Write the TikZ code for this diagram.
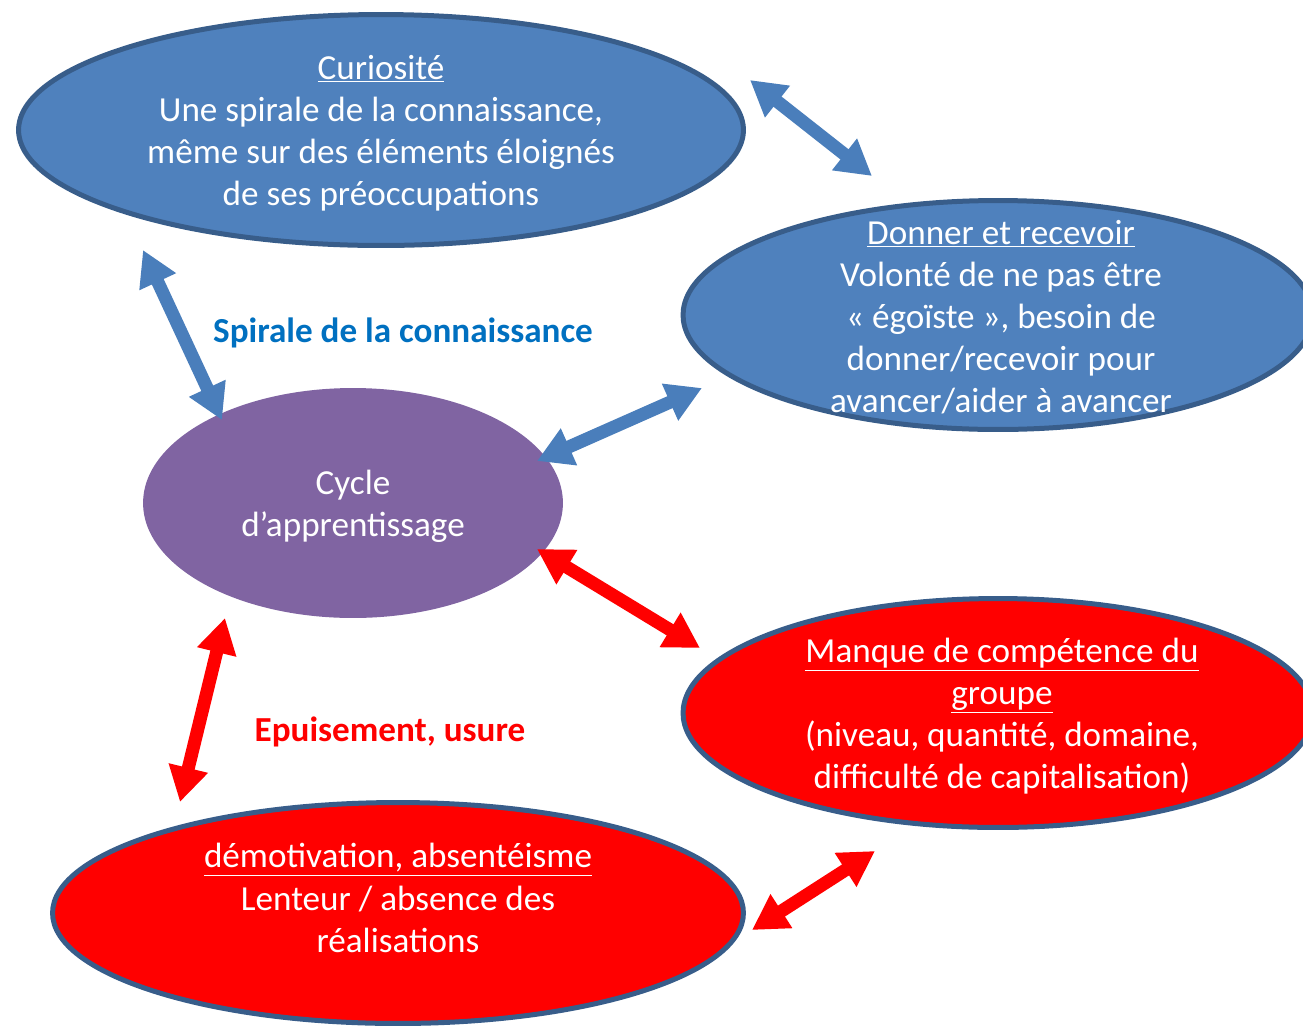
\documentclass[tikz,border=0pt]{standalone}
\usepackage{fontspec}
\setmainfont{Carlito}
\usetikzlibrary{shapes.geometric,arrows.meta,positioning}
\definecolor{bubbleblue}{HTML}{4F81BD}
\definecolor{bubbleborder}{HTML}{385D8A}
\definecolor{cyclepurple}{HTML}{8064A2}
\definecolor{labelblue}{HTML}{0070C0}
\definecolor{arrowblue}{HTML}{4A7EBB}

\begin{document}
\begin{tikzpicture}[
    x=0.02cm, y=-0.02cm,
    bubble/.style={ellipse, draw=bubbleborder, line width=0.1cm, inner sep=0pt},
    bluebubble/.style={bubble, fill=bubbleblue},
    redbubble/.style={bubble, fill=red},
    cyclebubble/.style={ellipse, fill=cyclepurple, inner sep=0pt, minimum width=8.4cm, minimum height=4.6cm},
    bubbletext/.style={text=white, align=center, font=\fontsize{20}{24}\selectfont},
    linktext/.style={font=\fontsize{20}{24}\selectfont\bfseries},
    link/.style={line width=0.26cm, {Triangle[length=0.7cm,width=0.76cm]}-{Triangle[length=0.7cm,width=0.76cm]}},
    bluearrow/.style={link, draw=arrowblue},
    redarrow/.style={link, draw=red}
]
\useasboundingbox (0,0) rectangle (1303,1029);

% Bubbles
\node[bluebubble, minimum width=14.5cm, minimum height=4.62cm] (curio) at (381,130) {};
\node[bluebubble, minimum width=12.6cm, minimum height=4.58cm] (donner) at (998,315) {};
\node[cyclebubble] (cycle) at (353,503) {};
\node[redbubble, minimum width=12.6cm, minimum height=4.58cm] (manque) at (998,713) {};
\node[redbubble, minimum width=13.82cm, minimum height=4.42cm] (demo) at (398,913) {};

% Texts
\node[bubbletext] (curiotxt) at ([yshift=-0.06cm]curio.center) {\underline{Curiosité}\\Une spirale de la connaissance,\\même sur des éléments éloignés\\de ses préoccupations};
\node[bubbletext] (donnertxt) at ([xshift=0.06cm,yshift=-0.04cm]donner.center) {\underline{Donner et recevoir}\\Volonté de ne pas être\\«~égoïste~», besoin de\\donner/recevoir pour\\avancer/aider à avancer};
\node[bubbletext] (cycletxt) at ([yshift=-0.07cm]cycle.center) {Cycle\\d’apprentissage};
\node[bubbletext] (manquetxt) at ([xshift=0.08cm,yshift=-0.06cm]manque.center) {\underline{Manque de compétence du}\\\underline{groupe}\\(niveau, quantité, domaine,\\difficulté de capitalisation)};
\node[bubbletext] (demotxt) at ([yshift=0.3cm]demo.center) {\underline{démotivation, absentéisme}\\Lenteur / absence des\\réalisations};

\node[linktext, text=labelblue] (spirale) at (403,333) {Spirale de la connaissance};
\node[linktext, text=red] (usure) at (390,732) {Epuisement, usure};

% Arrow ends
\coordinate (curioR) at (750,80);
\coordinate (donnerL) at (872,176);
\coordinate (curioB) at (143,250);
\coordinate (cycleT) at (222,420);
\coordinate (cycleNE) at (537,461);
\coordinate (donnerSW) at (702,388);
\coordinate (cycleSE) at (537,549);
\coordinate (manqueNW) at (700,648);
\coordinate (cycleB) at (225,618);
\coordinate (demoT) at (180,802);
\coordinate (demoR) at (752,930);
\coordinate (manqueSW) at (875,851);

% Arrows
\draw[bluearrow] (curioR) -- (donnerL);
\draw[bluearrow] (curioB) -- (cycleT);
\draw[bluearrow] (cycleNE) -- (donnerSW);
\draw[redarrow] (cycleSE) -- (manqueNW);
\draw[redarrow] (cycleB) -- (demoT);
\draw[redarrow] (demoR) -- (manqueSW);

\end{tikzpicture}
\end{document}
